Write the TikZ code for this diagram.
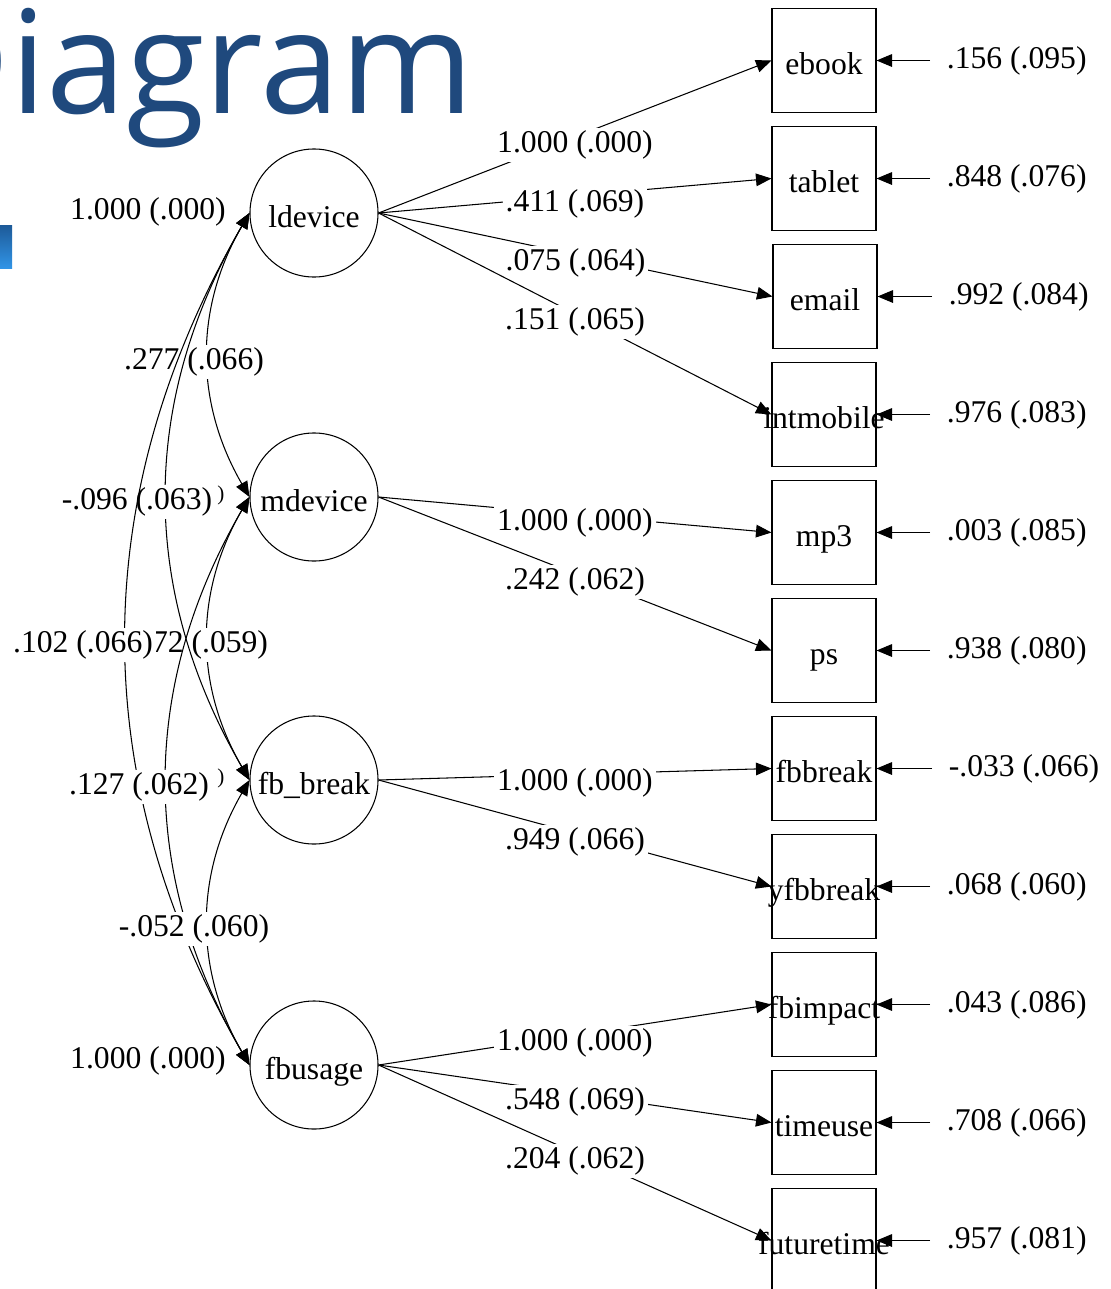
\documentclass[tikz,border=0pt]{standalone}
\usepackage{fontspec}
\setmainfont{Liberation Serif}
\newfontfamily\titlefont{Open Sans}
\usetikzlibrary{arrows.meta}
\definecolor{titleblue}{HTML}{1F497D}
\definecolor{bartop}{HTML}{1D5A98}
\definecolor{barbot}{HTML}{3194E6}
\newcommand{\ovr}[1]{\makebox[0pt]{#1}}

\begin{document}
\begin{tikzpicture}[x=0.025cm, y=-0.025cm,
    every node/.style={font=\fontsize{22.5}{27}\selectfont},
    latent/.style={draw, circle, minimum size=3.2cm, inner sep=0pt, text height=20pt, text depth=0pt, line width=0.75pt},
    observed/.style={draw, rectangle, minimum width=2.6cm, minimum height=2.58cm, inner sep=0pt, text height=20.5pt, text depth=0pt, line width=0.75pt},
    est/.style={fill=white, inner sep=2pt},
    errlab/.style={anchor=west, inner sep=2pt, outer sep=10pt},
    load/.style={-{Triangle[length=11pt, width=9pt]}, line width=0.75pt},
    cov/.style={{Triangle[length=11pt, width=9pt]}-{Triangle[length=11pt, width=9pt]}, line width=0.75pt}]

    % Page
    \useasboundingbox (0,0) rectangle (1111,1289);
    \clip (0,0) rectangle (1111,1289);

    % Slide title and bar (cut off)
    \node[anchor=base west, inner sep=0pt, text=titleblue, font=\titlefont\fontsize{102}{104}\selectfont] (title) at (-94.5,113) {Diagram};
    \shade[top color=bartop, bottom color=barbot] (0,225) rectangle (12,268);

    % Latent variables
    \node[latent] (ldevice) at (314,213) {ldevice};
    \node[latent] (mdevice) at (314,497) {mdevice};
    \node[latent] (fbbrk) at (314,780) {fb\_break};
    \node[latent] (fbusage) at (314,1065) {fbusage};

    % Indicators
    \node[observed] (ebook) at (824,60.5) {ebook};
    \node[observed] (tablet) at (824,178.5) {tablet};
    \node[observed] (email) at (825,296.5) {email};
    \node[observed] (intmobile) at (824,414.5) {\ovr{intmobile}};
    \node[observed] (mp3) at (824,532.5) {mp3};
    \node[observed] (ps) at (824,650.5) {ps};
    \node[observed] (fbbreak) at (824,768.5) {\ovr{fbbreak}};
    \node[observed] (yfbbreak) at (824,886.5) {\ovr{yfbbreak}};
    \node[observed] (fbimpact) at (824,1004.5) {\ovr{fbimpact}};
    \node[observed] (timeuse) at (824,1122.5) {\ovr{timeuse}};
    \node[observed] (futuretime) at (824,1240.5) {\ovr{futuretime}};

    % Loadings
    \draw[load] (ldevice.east) -- node[est, yshift=-6pt] {1.000 (.000)} (ebook.west);
    \draw[load] (ldevice.east) -- node[est, yshift=-6pt] {.411 (.069)} (tablet.west);
    \draw[load] (ldevice.east) -- node[est, yshift=-6pt] {.075 (.064)} (email.west);
    \draw[load] (ldevice.east) -- node[est, yshift=-6pt] {.151 (.065)} (intmobile.west);
    \draw[load] (mdevice.east) -- node[est, yshift=-6pt] {1.000 (.000)} (mp3.west);
    \draw[load] (mdevice.east) -- node[est, yshift=-6pt] {.242 (.062)} (ps.west);
    \draw[load] (fbbrk.east) -- node[est, yshift=-6pt] {1.000 (.000)} (fbbreak.west);
    \draw[load] (fbbrk.east) -- node[est, yshift=-6pt] {.949 (.066)} (yfbbreak.west);
    \draw[load] (fbusage.east) -- node[est, yshift=-6pt] {1.000 (.000)} (fbimpact.west);
    \draw[load] (fbusage.east) -- node[est, yshift=-6pt] {.548 (.069)} (timeuse.west);
    \draw[load] (fbusage.east) -- node[est, yshift=-6pt] {.204 (.062)} (futuretime.west);

    % Residual variances
    \node[errlab] (e1) at (930,60.5) {.156 (.095)};
    \node[errlab] (e2) at (930,178.5) {.848 (.076)};
    \node[errlab] (e3) at (932,296.5) {.992 (.084)};
    \node[errlab] (e4) at (930,414.5) {.976 (.083)};
    \node[errlab] (e5) at (930,532.5) {.003 (.085)};
    \node[errlab] (e6) at (930,650.5) {.938 (.080)};
    \node[errlab] (e7) at (932,768.5) {-.033 (.066)};
    \node[errlab] (e8) at (930,886.5) {.068 (.060)};
    \node[errlab] (e9) at (930,1004.5) {.043 (.086)};
    \node[errlab] (e10) at (930,1122.5) {.708 (.066)};
    \node[errlab] (e11) at (930,1240.5) {.957 (.081)};
    \draw[load] (e1.west) -- (ebook.east);
    \draw[load] (e2.west) -- (tablet.east);
    \draw[load] (e3.west) -- (email.east);
    \draw[load] (e4.west) -- (intmobile.east);
    \draw[load] (e5.west) -- (mp3.east);
    \draw[load] (e6.west) -- (ps.east);
    \draw[load] (e7.west) -- (fbbreak.east);
    \draw[load] (e8.west) -- (yfbbreak.east);
    \draw[load] (e9.west) -- (fbimpact.east);
    \draw[load] (e10.west) -- (timeuse.east);
    \draw[load] (e11.west) -- (futuretime.east);

    % Factor variances
    \node (vldevice) at (148,212) {1.000 (.000)};
    \node (vfbusage) at (148,1061) {1.000 (.000)};
    \node[inner sep=0pt, font=\fontsize{15}{18}\selectfont] (vmdevice) at (221,495) {)};
    \node[inner sep=0pt, font=\fontsize{15}{18}\selectfont] (vfbbrk) at (221,778) {)};

    % Covariances
    \draw[cov] (mdevice.west) .. controls +(-55,95) and +(-55,-95) .. (fbbrk.west);
    \node[est] (c23) at (210,645) {72 (.059)};
    \draw[cov] (ldevice.west) .. controls +(-55,95) and +(-55,-95) .. (mdevice.west);
    \node[est] (c12) at (194,362) {.277 (.066)};
    \draw[cov] (ldevice.west) .. controls +(-110,190) and +(-110,-190) .. (fbbrk.west);
    \node[est] (c13) at (137,502) {-.096 (.063)};
    \draw[cov] (ldevice.west) .. controls +(-164,284) and +(-164,-284) .. (fbusage.west);
    \node[est] (c14) at (83,645) {.102 (.066)};
    \draw[cov] (mdevice.west) .. controls +(-110,190) and +(-110,-190) .. (fbusage.west);
    \node[est] (c24) at (139,787) {.127 (.062)};
    \draw[cov] (fbbrk.west) .. controls +(-55,95) and +(-55,-95) .. (fbusage.west);
    \node[est] (c34) at (194,929) {-.052 (.060)};

\end{tikzpicture}
\end{document}
